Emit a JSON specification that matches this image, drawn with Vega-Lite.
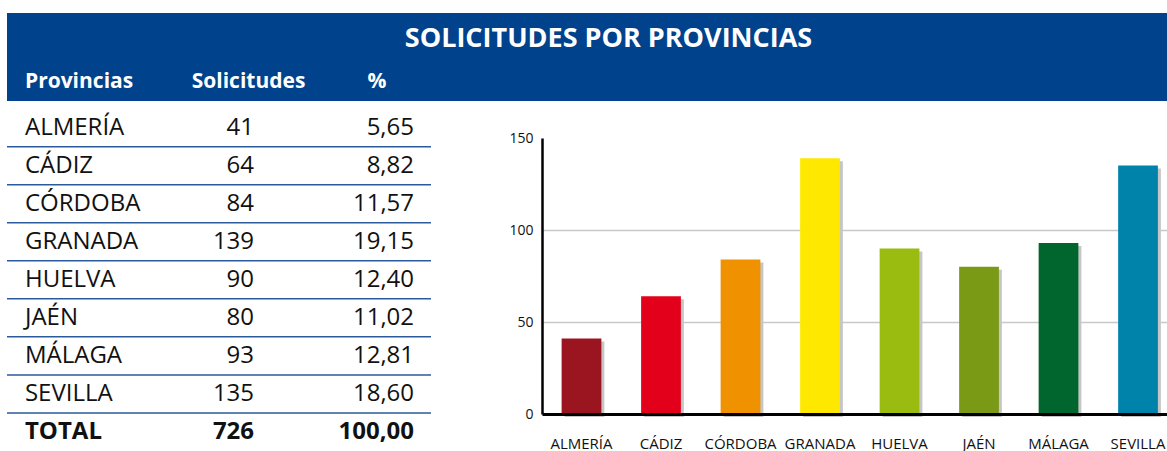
{
  "$schema": "https://vega.github.io/schema/vega-lite/v6.json",
  "padding": {"left": 6, "top": 13, "right": 0, "bottom": 0},
  "background": "white",
  "config": {
    "view": {"stroke": null},
    "font": "Open Sans",
    "locale": {"number": {"decimal": ",", "thousands": ".", "grouping": [3], "currency": ["", " €"]}}
  },
  "datasets": {
    "provincias": [
      {"provincia": "ALMERÍA", "solicitudes": 41, "porcentaje": 5.65},
      {"provincia": "CÁDIZ", "solicitudes": 64, "porcentaje": 8.82},
      {"provincia": "CÓRDOBA", "solicitudes": 84, "porcentaje": 11.57},
      {"provincia": "GRANADA", "solicitudes": 139, "porcentaje": 19.15},
      {"provincia": "HUELVA", "solicitudes": 90, "porcentaje": 12.40},
      {"provincia": "JAÉN", "solicitudes": 80, "porcentaje": 11.02},
      {"provincia": "MÁLAGA", "solicitudes": 93, "porcentaje": 12.81},
      {"provincia": "SEVILLA", "solicitudes": 135, "porcentaje": 18.60},
      {"provincia": "TOTAL", "solicitudes": 726, "porcentaje": 100.00}
    ],
    "cabecera": [
      {"fila": "titulo", "columna": "Provincias", "texto": "SOLICITUDES POR PROVINCIAS"},
      {"fila": "encabezado", "columna": "Provincias", "texto": "Provincias"},
      {"fila": "encabezado", "columna": "Solicitudes", "texto": "Solicitudes"},
      {"fila": "encabezado", "columna": "%", "texto": "%"}
    ]
  },
  "vconcat": [
    {
      "width": 1161,
      "height": 88,
      "view": {"fill": "#00428c", "stroke": null},
      "data": {"name": "cabecera"},
      "layer": [
        {
          "transform": [{"filter": "datum.fila === 'titulo'"}],
          "mark": {"type": "text", "color": "white", "fontSize": 27, "fontWeight": "bold", "dx": 21, "baseline": "middle"},
          "encoding": {
            "y": {"field": "fila", "type": "nominal", "bandPosition": 0.59, "scale": {"type": "band", "domain": ["titulo", "encabezado"], "paddingInner": 0, "paddingOuter": 0}, "axis": null},
            "text": {"field": "texto"}
          }
        },
        {
          "transform": [{"filter": "datum.fila === 'encabezado' && datum.columna === 'Provincias'"}],
          "mark": {"type": "text", "color": "white", "fontSize": 21, "fontWeight": "bold", "align": "left", "baseline": "middle"},
          "encoding": {
            "x": {"field": "columna", "type": "nominal", "bandPosition": 0.127, "scale": {"type": "band", "domain": ["Provincias", "Solicitudes", "%"], "range": [0, 424], "paddingInner": 0, "paddingOuter": 0}, "axis": null},
            "y": {"field": "fila", "type": "nominal", "bandPosition": 0.57},
            "text": {"field": "texto"}
          }
        },
        {
          "transform": [{"filter": "datum.fila === 'encabezado' && datum.columna === 'Solicitudes'"}],
          "mark": {"type": "text", "color": "white", "fontSize": 21, "fontWeight": "bold", "align": "center", "baseline": "middle"},
          "encoding": {
            "x": {"field": "columna", "type": "nominal", "bandPosition": 0.709},
            "y": {"field": "fila", "type": "nominal", "bandPosition": 0.57},
            "text": {"field": "texto"}
          }
        },
        {
          "transform": [{"filter": "datum.fila === 'encabezado' && datum.columna === '%'"}],
          "mark": {"type": "text", "color": "white", "fontSize": 21, "fontWeight": "bold", "align": "center", "baseline": "middle"},
          "encoding": {
            "x": {"field": "columna", "type": "nominal", "bandPosition": 0.618},
            "y": {"field": "fila", "type": "nominal", "bandPosition": 0.57},
            "text": {"field": "texto"}
          }
        }
      ]
    },
    {
      "hconcat": [
        {
          "width": 424,
          "height": 350,
          "data": {"name": "provincias"},
          "encoding": {
            "y": {"field": "provincia", "type": "nominal", "sort": null, "scale": {"type": "band", "paddingInner": 0, "paddingOuter": 0.1, "align": 1}, "axis": null}
          },
          "layer": [
            {
              "transform": [{"filter": "datum.provincia !== 'TOTAL'"}],
              "mark": {"type": "rule", "color": "#2a5a9c", "strokeWidth": 1.5},
              "encoding": {
                "y": {"field": "provincia", "type": "nominal", "sort": null, "bandPosition": 1}
              }
            },
            {
              "transform": [{"filter": "datum.provincia !== 'TOTAL'"}],
              "mark": {"type": "text", "align": "left", "baseline": "middle", "fontSize": 24, "color": "#111111"},
              "encoding": {
                "x": {"datum": "Provincias", "type": "nominal", "bandPosition": 0.127, "scale": {"type": "band", "domain": ["Provincias", "Solicitudes", "%"], "paddingInner": 0, "paddingOuter": 0}, "axis": null},
                "text": {"field": "provincia"}
              }
            },
            {
              "transform": [{"filter": "datum.provincia !== 'TOTAL'"}],
              "mark": {"type": "text", "align": "right", "baseline": "middle", "fontSize": 24, "color": "#111111"},
              "encoding": {
                "x": {"datum": "Solicitudes", "type": "nominal", "bandPosition": 0.748},
                "text": {"field": "solicitudes", "type": "quantitative", "format": "d"}
              }
            },
            {
              "transform": [{"filter": "datum.provincia !== 'TOTAL'"}],
              "mark": {"type": "text", "align": "right", "baseline": "middle", "fontSize": 24, "color": "#111111"},
              "encoding": {
                "x": {"datum": "%", "type": "nominal", "bandPosition": 0.88},
                "text": {"field": "porcentaje", "type": "quantitative", "format": ".2f"}
              }
            },
            {
              "transform": [{"filter": "datum.provincia === 'TOTAL'"}],
              "mark": {"type": "text", "align": "left", "baseline": "middle", "fontSize": 24, "fontWeight": "bold", "color": "#111111"},
              "encoding": {
                "x": {"datum": "Provincias", "type": "nominal", "bandPosition": 0.127},
                "text": {"field": "provincia"}
              }
            },
            {
              "transform": [{"filter": "datum.provincia === 'TOTAL'"}],
              "mark": {"type": "text", "align": "right", "baseline": "middle", "fontSize": 24, "fontWeight": "bold", "color": "#111111"},
              "encoding": {
                "x": {"datum": "Solicitudes", "type": "nominal", "bandPosition": 0.748},
                "text": {"field": "solicitudes", "type": "quantitative", "format": "d"}
              }
            },
            {
              "transform": [{"filter": "datum.provincia === 'TOTAL'"}],
              "mark": {"type": "text", "align": "right", "baseline": "middle", "fontSize": 24, "fontWeight": "bold", "color": "#111111"},
              "encoding": {
                "x": {"datum": "%", "type": "nominal", "bandPosition": 0.88},
                "text": {"field": "porcentaje", "type": "quantitative", "format": ".2f"}
              }
            }
          ]
        },
        {
          "width": 626,
          "height": 276,
          "data": {"name": "provincias"},
          "transform": [{"filter": "datum.provincia !== 'TOTAL'"}],
          "encoding": {
            "x": {
              "field": "provincia", "type": "nominal", "sort": null,
              "scale": {"type": "band", "paddingInner": 0.5, "paddingOuter": 0.187, "align": 0.66},
              "axis": {"title": null, "labelAngle": 0, "labelFontSize": 15, "labelColor": "#111111", "labelPadding": 22, "labelBaseline": "top", "ticks": false, "tickSize": 0, "domainColor": "#000000", "domainWidth": 3, "zindex": 1, "labelOverlap": false}
            },
            "y": {
              "field": "solicitudes", "type": "quantitative",
              "scale": {"domain": [0, 150], "nice": false},
              "axis": {"title": null, "values": [0, 50, 100, 150], "ticks": false, "tickSize": 0, "labelFontSize": 14, "labelColor": "#111111", "labelPadding": 9, "domainColor": "#000000", "domainWidth": 2.5, "gridColor": "#c8c8c8", "gridWidth": 1.5, "gridOpacity": {"condition": {"test": "datum.value >= 150", "value": 0}, "value": 1}}
            }
          },
          "layer": [
            {"mark": {"type": "bar", "color": "#c6c6c6", "xOffset": 3, "yOffset": 3}},
            {
              "mark": {"type": "bar"},
              "encoding": {
                "color": {
                  "field": "provincia", "type": "nominal", "sort": null, "legend": null,
                  "scale": {
                    "domain": ["ALMERÍA", "CÁDIZ", "CÓRDOBA", "GRANADA", "HUELVA", "JAÉN", "MÁLAGA", "SEVILLA"],
                    "range": ["#9a1520", "#e2001a", "#f09100", "#ffe800", "#9abb10", "#7a9a15", "#00662e", "#0083aa"]
                  }
                }
              }
            }
          ]
        }
      ],
      "spacing": 111,
      "bounds": "flush",
      "center": true
    }
  ],
  "spacing": 0,
  "bounds": "flush"
}
